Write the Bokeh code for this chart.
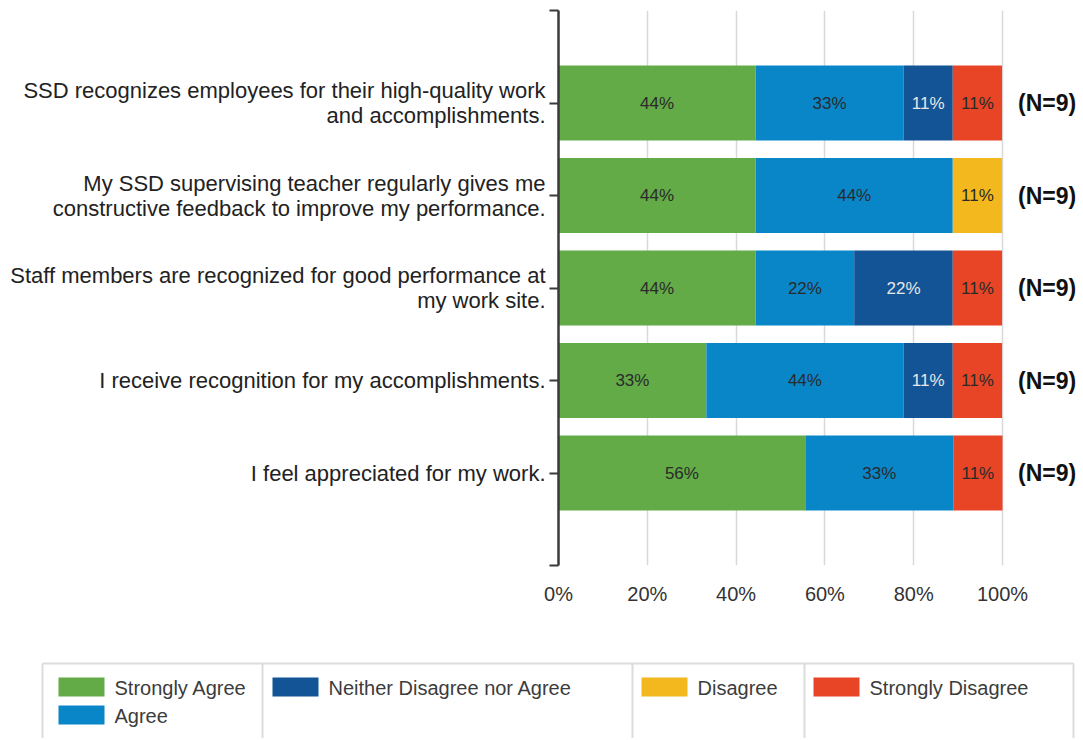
from bokeh.plotting import figure
from bokeh.models import ColumnDataSource, Range1d, FixedTicker
from bokeh.core.properties import value
from bokeh.embed import file_html
from bokeh.resources import INLINE

# ---------------- data ----------------
categories = [
    "SSD recognizes employees for their high-quality work\nand accomplishments.",
    "My SSD supervising teacher regularly gives me\nconstructive feedback to improve my performance.",
    "Staff members are recognized for good performance at\nmy work site.",
    "I receive recognition for my accomplishments.",
    "I feel appreciated for my work.",
]
series_names = ["Strongly Agree", "Agree", "Neither Disagree nor Agree", "Disagree", "Strongly Disagree"]
strongly_agree = [44.4, 44.4, 44.4, 33.3, 55.6]
agree = [33.3, 44.4, 22.2, 44.4, 33.3]
neither = [11.1, 0.0, 22.2, 11.1, 0.0]
disagree = [0.0, 11.1, 0.0, 0.0, 0.0]
strongly_disagree = [11.1, 0.0, 11.1, 11.1, 11.1]
n_labels = ["(N=9)", "(N=9)", "(N=9)", "(N=9)", "(N=9)"]
x_ticks = [0, 20, 40, 60, 80, 100]
x_tick_labels = ["0%", "20%", "40%", "60%", "80%", "100%"]

colors = ["#62AB47", "#0886C8", "#125495", "#F3B81D", "#E74526"]
label_colors = ["#2a2a2a", "#2a2a2a", "#e8e8e8", "#2a2a2a", "#2a2a2a"]

FONT = "Liberation Sans"

series = [strongly_agree, agree, neither, disagree, strongly_disagree]
keys = ["sa", "a", "n", "d", "sd"]
ypos = [i + 1 for i in range(len(categories))]

data = {"y": ypos}
for k, s in zip(keys, series):
    data[k] = s
src = ColumnDataSource(data)

W = 1080
p = figure(width=W, height=618, output_backend="svg", toolbar_location=None,
           x_range=Range1d(0, (W - 558) / 4.44), y_range=Range1d(6, 0),
           min_border_left=558, min_border_right=0, min_border_top=10, min_border_bottom=53)
p.outline_line_color = None
p.background_fill_color = "white"

p.hbar_stack(keys, y="y", height=0.81, color=colors, line_color=None, source=src)

# segment labels
lx, ly, lt, lc = [], [], [], []
for i in range(len(categories)):
    left = 0.0
    for j, s in enumerate(series):
        v = s[i]
        if v > 0:
            lx.append(left + v / 2)
            ly.append(ypos[i])
            lt.append(f"{round(v)}%")
            lc.append(label_colors[j])
        left += v
p.text(x=lx, y=ly, text=lt, text_color=lc, text_align="center", text_baseline="middle",
       text_font=value(FONT), text_font_size="17px")

# N labels
p.text(x=[103.5] * len(categories), y=ypos, text=n_labels, text_align="left",
       text_baseline="middle", text_font=value(FONT), text_font_size="23px",
       text_font_style="bold", text_color="#111111")

# x axis
p.xaxis.ticker = FixedTicker(ticks=x_ticks)
p.xaxis.major_label_overrides = {t: l for t, l in zip(x_ticks, x_tick_labels)}
p.xaxis.axis_line_color = None
p.xaxis.major_tick_line_color = None
p.xaxis.major_tick_out = 0
p.xaxis.major_tick_in = 0
p.xaxis.minor_tick_line_color = None
p.xaxis.major_label_standoff = 17
p.xaxis.major_label_text_font = FONT
p.xaxis.major_label_text_font_size = "20px"
p.xaxis.major_label_text_color = "#333333"

p.xgrid.ticker = FixedTicker(ticks=x_ticks)
p.xgrid.grid_line_color = "#d9d9d9"
p.xgrid.grid_line_width = 1.5
p.ygrid.grid_line_color = None

# y axis
p.yaxis.ticker = FixedTicker(ticks=[0, 1, 2, 3, 4, 5, 6])
ov = {0: "", 6: ""}
for yv, c in zip(ypos, categories):
    ov[yv] = c
p.yaxis.major_label_overrides = ov
p.yaxis.axis_line_color = "#3a3a3a"
p.yaxis.axis_line_width = 2.5
p.yaxis.major_tick_line_color = "#3a3a3a"
p.yaxis.major_tick_line_width = 2
p.yaxis.major_tick_out = 9
p.yaxis.major_tick_in = 0
p.yaxis.minor_tick_line_color = None
p.yaxis.major_label_standoff = 4
p.yaxis.major_label_text_font = FONT
p.yaxis.major_label_text_font_size = "22px"
p.yaxis.major_label_text_line_height = 1.0
p.yaxis.major_label_text_color = "#222222"
p.yaxis.major_label_text_align = "right"

# ---------------- legend figure ----------------
LH = 120
lg = figure(width=W, height=LH, output_backend="svg", toolbar_location=None,
            x_range=Range1d(0, W), y_range=Range1d(LH, 0),
            min_border=0)
lg.outline_line_color = None
lg.axis.visible = False
lg.grid.visible = False

border = "#dcdcdc"
lg.segment(x0=[42, 42, 1073, 262, 632, 804], y0=[45] * 6,
           x1=[1073, 42, 1073, 262, 632, 804], y1=[45, 200, 200, 200, 200, 200],
           line_color=border, line_width=2)

sw_left = [58, 58, 272, 641, 813]
sw_top = [59, 87, 59, 59, 59]
lg.quad(left=sw_left, right=[l + 46 for l in sw_left], top=sw_top,
        bottom=[t + 19 for t in sw_top], fill_color=colors, line_color=None)
lg.text(x=[l + 56 for l in sw_left], y=[t + 10 for t in sw_top], text=series_names,
        text_align="left", text_baseline="middle", text_font=value(FONT),
        text_font_size="20px", text_color="#3c3c3c")

open("out.html", "w").write(file_html([p, lg], INLINE))
